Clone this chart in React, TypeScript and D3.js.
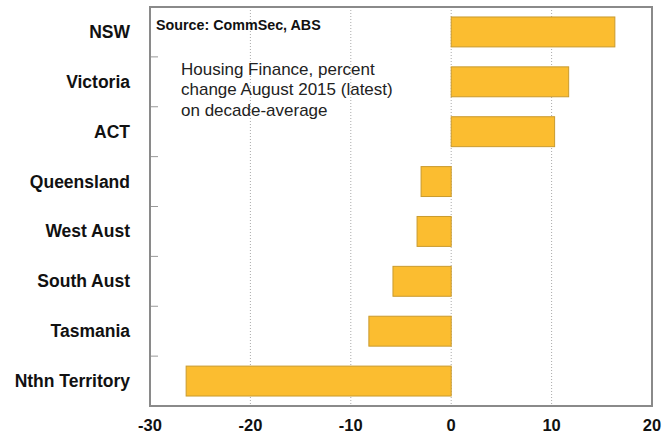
import React from "react";
import * as d3 from "d3";

const categories = ["NSW", "Victoria", "ACT", "Queensland", "West Aust", "South Aust", "Tasmania", "Nthn Territory"];
const values = [16.3, 11.7, 10.3, -3.0, -3.4, -5.8, -8.2, -26.4];
const xTicks = [-30, -20, -10, 0, 10, 20];
const gridTicks = [-20, -10, 0, 10];
const sourceText = "Source: CommSec, ABS";
const noteLines = ["Housing Finance, percent", "change August 2015 (latest)", "on decade-average"];

export default function App() {
  const W = 668, H = 436;
  const left = 150, right = 652, top = 7, bottom = 406;
  const x = d3.scaleLinear().domain([-30, 20]).range([left, right]);
  const y = d3.scaleBand<string>().domain(categories).range([top, bottom]).paddingInner(0.4).paddingOuter(0.2);
  const yb = d3.scaleBand<string>().domain(categories).range([top, bottom]);
  const font = "'Liberation Sans', Arial, sans-serif";
  return (
    <svg width={W} height={H} style={{ position: "absolute", left: 0, top: 0, background: "#fff" }} fontFamily={font}>
      <rect x={0} y={0} width={W} height={H} fill="#fff" />
      {gridTicks.map((t) => (
        <line key={t} x1={x(t)} x2={x(t)} y1={top} y2={bottom} stroke="#aaa" strokeWidth={1} strokeDasharray="1,2" />
      ))}
      {categories.slice(1).map((c) => (
        <line key={c} x1={left} x2={left + 8} y1={yb(c)!} y2={yb(c)!} stroke="#999" strokeWidth={1} />
      ))}
      {categories.map((c, i) => {
        const v = values[i];
        const x0 = x(Math.min(0, v));
        const x1 = x(Math.max(0, v));
        return (
          <rect key={c} x={x0} y={y(c)!} width={x1 - x0} height={y.bandwidth()} fill="#FBBD30" stroke="#C99A2E" strokeWidth={1} />
        );
      })}
      <rect x={left} y={top} width={right - left} height={bottom - top} fill="none" stroke="#8a8a8a" strokeWidth={2} />
      {categories.map((c) => (
        <text key={c} x={130} y={yb(c)! + yb.bandwidth() / 2} textAnchor="end" dominantBaseline="central" fontWeight="bold" fontSize={17.5} fill="#111">
          {c}
        </text>
      ))}
      {xTicks.map((t) => (
        <text key={t} x={x(t)} y={425} textAnchor="middle" dominantBaseline="central" fontWeight="bold" fontSize={16.5} fill="#111">
          {t}
        </text>
      ))}
      <text x={156} y={30} fontWeight="bold" fontSize={14.3} fill="#111">{sourceText}</text>
      {noteLines.map((l, i) => (
        <text key={i} x={181} y={75 + i * 20.3} fontSize={17} fill="#222">{l}</text>
      ))}
    </svg>
  );
}
